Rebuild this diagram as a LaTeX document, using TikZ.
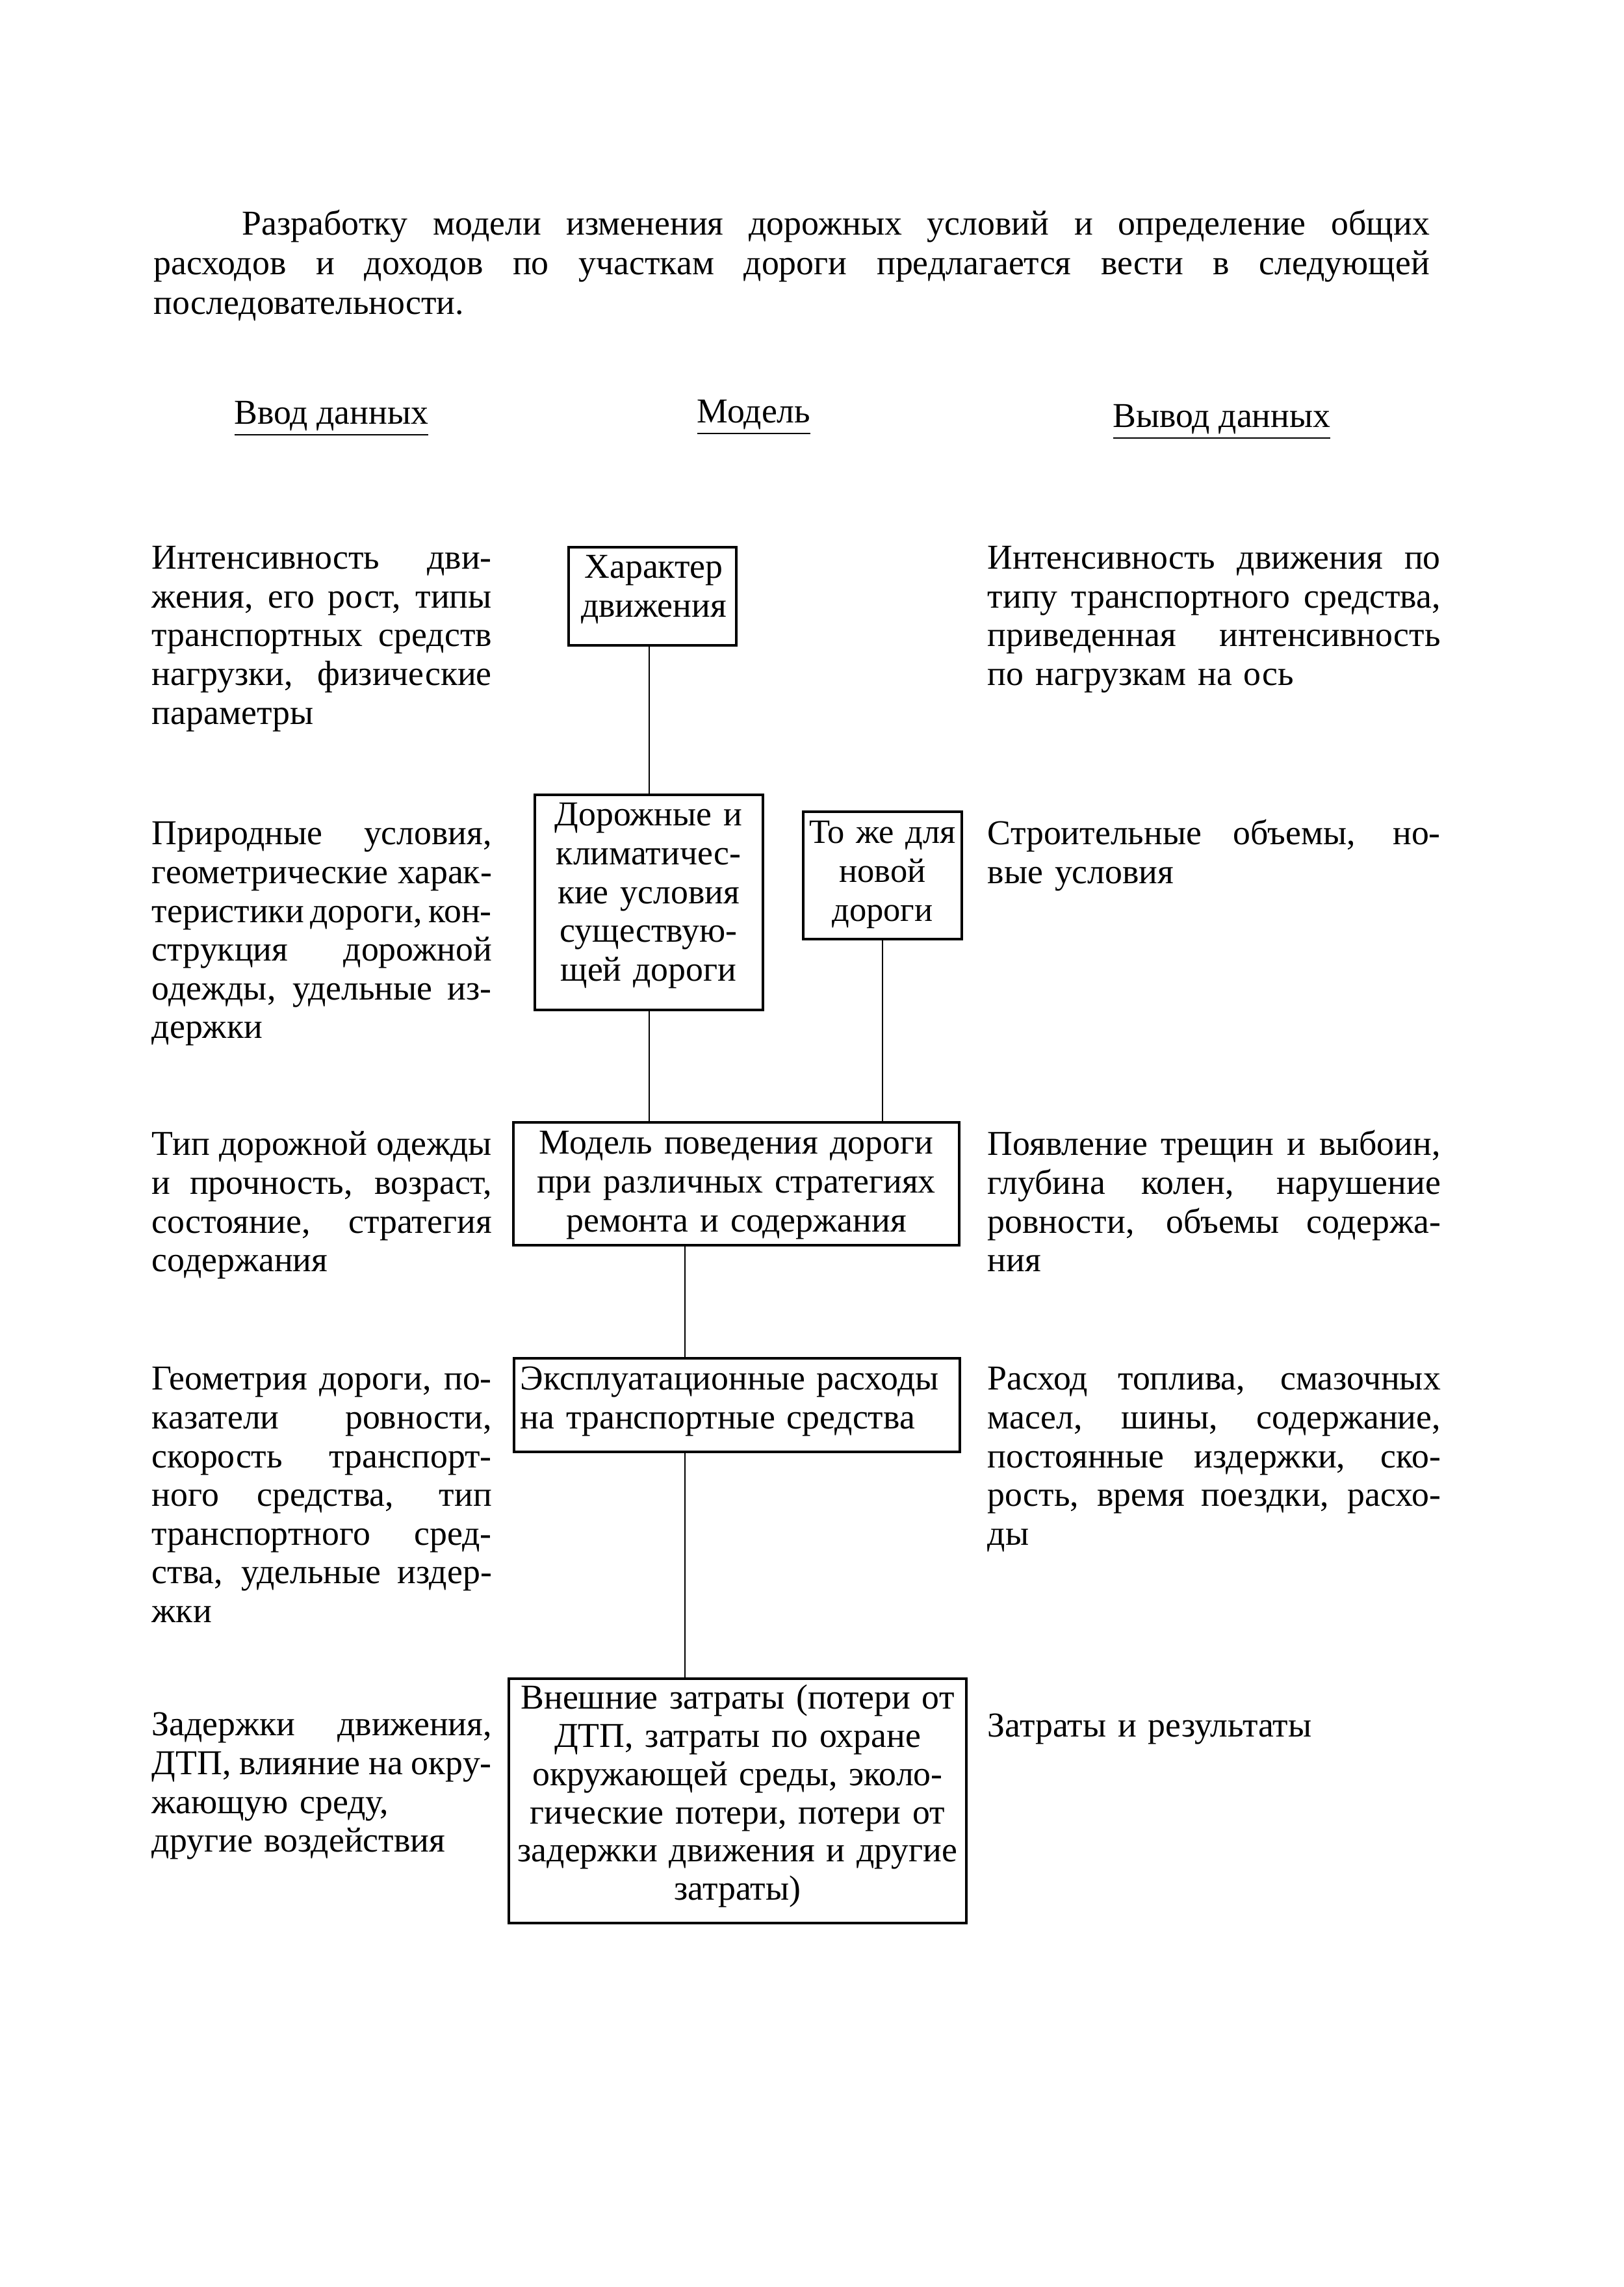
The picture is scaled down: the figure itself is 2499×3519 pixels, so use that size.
\documentclass[tikz,border=0pt]{standalone}
\usepackage{fontspec}
\setmainfont{Liberation Serif}
\newdimen\px \px=0.24pt
\newcommand\fs{\rule{0pt}{12pt}}
\newcommand\jl[2]{{\spaceskip=0pt\xspaceskip=0pt\makebox[#1\px][s]{#2}}}
\begin{document}
\begin{tikzpicture}[x=0.24pt, y=-0.24pt,
  box/.style={draw, line width=0.8pt, inner sep=0pt},
  conn/.style={line width=0.6pt},
  txt/.style={inner sep=0pt, font=\fontsize{12.9}{14.3}\selectfont},
  lcol/.style={txt, anchor=north west, text width=523\px, align=left},
  rcol/.style={txt, anchor=north west, text width=697\px, align=left},
  btxt/.style={txt, anchor=north, align=center},
  head/.style={txt, anchor=base}]
\useasboundingbox (0,0) rectangle (2499,3519);
\fill[white] (0,0) rectangle (2499,3519);

% intro paragraph
\node[txt, font=\fontsize{12.9}{14.6}\selectfont, anchor=north west, text width=1963\px, align=left] (para) at (236,311)
 {\noindent\fs\hspace*{136\px}\jl{1827}{Разработку модели изменения дорожных условий и определение общих}\\
  \jl{1963}{расходов и доходов по участкам дороги предлагается вести в следующей}\\
  последовательности.};

% column headers
\node[head] (h1) at (510,653) {\underline{Ввод данных}};
\node[head] (h2) at (1160,651) {\underline{Модель}};
\node[head] (h3) at (1880,658) {\underline{Вывод данных}};

% left column
\node[lcol] (l1) at (233,825) {\noindent\fs\jl{523}{Интенсивность дви-}\\
  \jl{523}{жения, его рост, типы}\\
  \jl{523}{транспортных средств}\\
  \jl{523}{нагрузки, физические}\\
  параметры};
\node[lcol] (l2) at (233,1249) {\noindent\fs\jl{523}{Природные условия,}\\
  \jl{523}{геометрические харак-}\\
  \jl{523}{теристики дороги, кон-}\\
  \jl{523}{струкция дорожной}\\
  \jl{523}{одежды, удельные из-}\\
  держки};
\node[lcol] (l3) at (233,1727) {\noindent\fs\jl{523}{Тип дорожной одежды}\\
  \jl{523}{и прочность, возраст,}\\
  \jl{523}{состояние, стратегия}\\
  содержания};
\node[lcol] (l4) at (233,2088) {\noindent\fs\jl{523}{Геометрия дороги, по-}\\
  \jl{523}{казатели ровности,}\\
  \jl{523}{скорость транспорт-}\\
  \jl{523}{ного средства, тип}\\
  \jl{523}{транспортного сред-}\\
  \jl{523}{ства, удельные издер-}\\
  жки};
\node[lcol] (l5) at (233,2620) {\noindent\fs\jl{523}{Задержки движения,}\\
  \jl{523}{ДТП, влияние на окру-}\\
  жающую среду,\\
  другие воздействия};

% right column
\node[rcol] (r1) at (1519,825) {\noindent\fs\jl{697}{Интенсивность движения по}\\
  \jl{697}{типу транспортного средства,}\\
  \jl{697}{приведенная интенсивность}\\
  по нагрузкам на ось};
\node[rcol] (r2) at (1519,1249) {\noindent\fs\jl{697}{Строительные объемы, но-}\\
  вые условия};
\node[rcol] (r3) at (1519,1727) {\noindent\fs\jl{697}{Появление трещин и выбоин,}\\
  \jl{697}{глубина колен, нарушение}\\
  \jl{697}{ровности, объемы содержа-}\\
  ния};
\node[rcol] (r4) at (1519,2088) {\noindent\fs\jl{697}{Расход топлива, смазочных}\\
  \jl{697}{масел, шины, содержание,}\\
  \jl{697}{постоянные издержки, ско-}\\
  \jl{697}{рость, время поездки, расхо-}\\
  ды};
\node[rcol] (r5) at (1519,2622) {\noindent\fs Затраты и результаты};

% model boxes
\node[box, minimum width=258\px, minimum height=151\px] (b1) at (1004,917.5) {};
\node[box, minimum width=351\px, minimum height=331\px] (b2) at (998.5,1388.5) {};
\node[box, minimum width=244\px, minimum height=196\px] (b3) at (1358,1347) {};
\node[box, minimum width=686\px, minimum height=189\px] (b4) at (1133,1821.5) {};
\node[box, minimum width=686\px, minimum height=144\px] (b5) at (1134,2162) {};
\node[box, minimum width=704\px, minimum height=376\px] (b6) at (1135,2771) {};

% box texts
\node[btxt, text width=258\px] (b1t) at (1006,839) {\fs Характер\\движения};
\node[btxt, text width=351\px] (b2t) at (998,1220) {\fs Дорожные и\\климатичес-\\кие условия\\существую-\\щей дороги};
\node[btxt, text width=250\px, font=\fontsize{12.6}{14.3}\selectfont] (b3t) at (1358,1247) {\fs То же для\\новой\\дороги};
\node[btxt, text width=686\px] (b4t) at (1133,1725) {\fs Модель поведения дороги\\при различных стратегиях\\ремонта и содержания};
\node[txt, anchor=north west, text width=680\px, align=left] (b5t) at (800,2088) {\noindent\fs Эксплуатационные расходы\\на транспортные средства};
\node[btxt, text width=704\px, font=\fontsize{12.9}{14.1}\selectfont] (b6t) at (1135,2579) {\fs Внешние затраты (потери от\\ДТП, затраты по охране\\окружающей среды, эколо-\\гические потери, потери от\\задержки движения и другие\\затраты)};

% connectors
\coordinate (ca) at (999,0);
\coordinate (cb) at (1054,0);
\draw[conn] (b1.south -| ca) -- (b2.north -| ca);
\draw[conn] (b2.south -| ca) -- (b4.north -| ca);
\draw[conn] (b3.south) -- (b3.south |- b4.north);
\draw[conn] (b4.south -| cb) -- (b5.north -| cb);
\draw[conn] (b5.south -| cb) -- (b6.north -| cb);
\end{tikzpicture}
\end{document}
